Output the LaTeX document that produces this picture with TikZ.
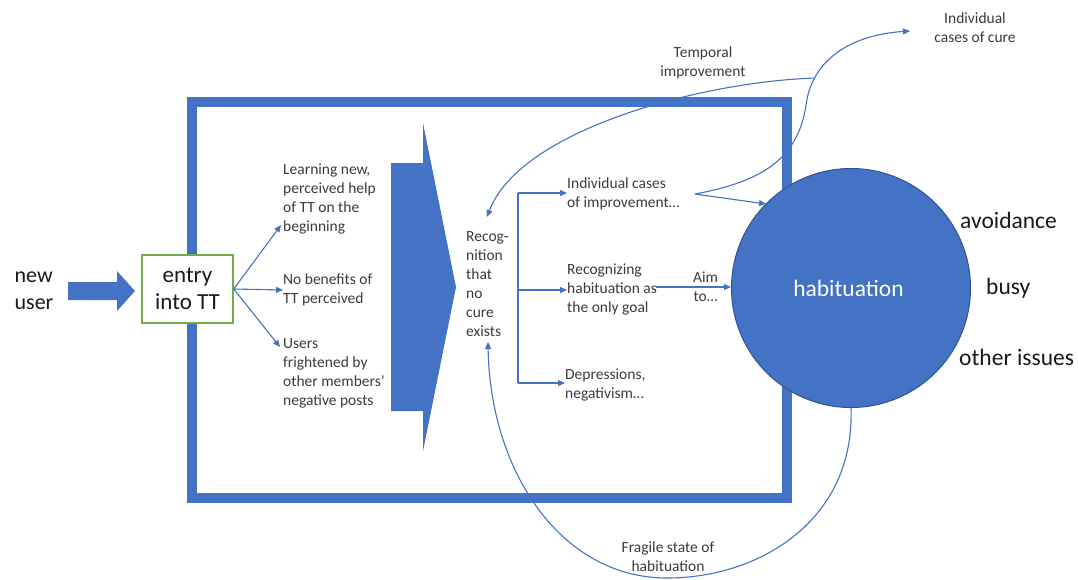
\documentclass[tikz,border=0pt]{standalone}
\usepackage{fontspec}
\setmainfont{Carlito}
\usetikzlibrary{arrows.meta,calc}
\definecolor{hblue}{HTML}{4472C4}
\definecolor{hdark}{HTML}{2F528F}
\definecolor{hgreen}{HTML}{70AD47}
\definecolor{htext}{HTML}{3A3A3A}
\tikzset{
  small/.style={font=\fontsize{15.5}{19}\selectfont, text=htext, align=left, inner sep=0pt},
  big/.style={font=\fontsize{23.5}{27}\selectfont, text=black!90, inner sep=0pt},
  conn/.style={draw=hblue, line width=1.1pt, -{Triangle[length=7pt,width=6pt]}},
  plain/.style={draw=hblue, line width=1.1pt},
}
\begin{document}
\begin{tikzpicture}[x=1pt,y=-1pt]
\useasboundingbox (0,0) rectangle (1078,579);
% frame
\draw[hblue, line width=10.5pt] (192,102) rectangle (787,498);
% new user
\node[big, align=left, font=\fontsize{22}{27}\selectfont] (newuser) at (34,291) {new\\user};
\fill[hblue] (68,282) -- (117,282) -- (117,271) -- (135,291) -- (117,311) -- (117,300) -- (68,300) -- cycle;
\node[big, align=center, font=\fontsize{23}{27}\selectfont, draw=hgreen, line width=1.5pt, fill=white, minimum width=91pt, minimum height=68pt] (entry) at (187.5,289) {entry\\into TT};
% first column texts
\node[small, anchor=west] (learn) at (283,198.5) {Learning new,\\perceived help\\of TT on the\\beginning};
\node[small, anchor=west] (nobenefit) at (283,290) {No benefits of\\TT perceived};
\node[small, anchor=west] (users) at (283,373.5) {Users\\frightened by\\other members'\\negative posts};
\coordinate (t1) at (281,225);
\coordinate (t3) at (280,347);
\draw[conn] (entry.east) -- (t1);
\draw[conn] (entry.east) -- (nobenefit.west);
\draw[conn] (entry.east) -- (t3);
% pentagon arrow
\fill[hblue] (391,163) -- (423,163) -- (423,123) -- (456,287) -- (423,451) -- (423,411) -- (391,411) -- cycle;
% recognition
\node[small, anchor=west] (recog) at (466,284.5) {Recog-\\nition\\that\\no\\cure\\exists};
% bracket
\coordinate (b1) at (518,193);
\coordinate (b2) at (518,290);
\coordinate (b3) at (518,383);
\draw[plain] (b1) -- (b3);
\node[small, anchor=west] (indiv) at (567,194) {Individual cases\\of improvement\ldots};
\node[small, anchor=west] (recogn) at (567,289) {Recognizing\\habituation as\\the only goal};
\node[small, anchor=west] (depr) at (565,385) {Depressions,\\negativism\ldots};
\draw[conn] (b1) -- (indiv.west |- b1);
\draw[conn] (b2) -- (recogn.west |- b2);
\draw[conn] (b3) -- (depr.west |- b3);
% circle
\node[circle, fill=hblue, draw=hdark, line width=1pt, minimum size=239pt, inner sep=0pt] (hab) at (851,288) {};
\node[font=\fontsize{23.5}{27}\selectfont, text=white, inner sep=0pt] (habt) at (848.5,288) {habituation};
\node[big, anchor=west] (avoid) at (960,220) {avoidance};
\node[big, anchor=west] (busy) at (986,288) {busy};
\node[big, anchor=west] (other) at (959,357) {other issues};
% aim arrow
\coordinate (aimstart) at (656,287);
\draw[conn] (aimstart) -- (hab.west |- aimstart) node[pos=0.66, small, align=center] (aim) {Aim\\to\ldots};
% individual improvement branches
\coordinate (istart) at (695,194);
\coordinate (ihit) at (766,204);
\node[small, align=center] (cure) at (975,28) {Individual\\cases of cure};
\coordinate (curetip) at (910,31);
\draw[conn] (istart) -- (ihit);
\draw[conn] (istart) .. controls (760,182) and (798,160) .. (806,105) .. controls (812,60) and (850,35) .. (curetip);
% temporal improvement
\node[small, align=center] (temporal) at (703,62.5) {Temporal\\improvement};
\coordinate (tstart) at (815,78);
\coordinate (ttip) at (487,217);
\draw[conn] (tstart) .. controls (700,82) and (520,130) .. (ttip);
% fragile state
\node[small, align=center] (fragile) at (668,557) {Fragile state of\\habituation};
\coordinate (fbot) at (667,578);
\coordinate (ftip) at (488,342);
\draw[conn] (hab.south) .. controls (855,520) and (760,578) .. (fbot) .. controls (560,578) and (490,470) .. (ftip);
\end{tikzpicture}
\end{document}
